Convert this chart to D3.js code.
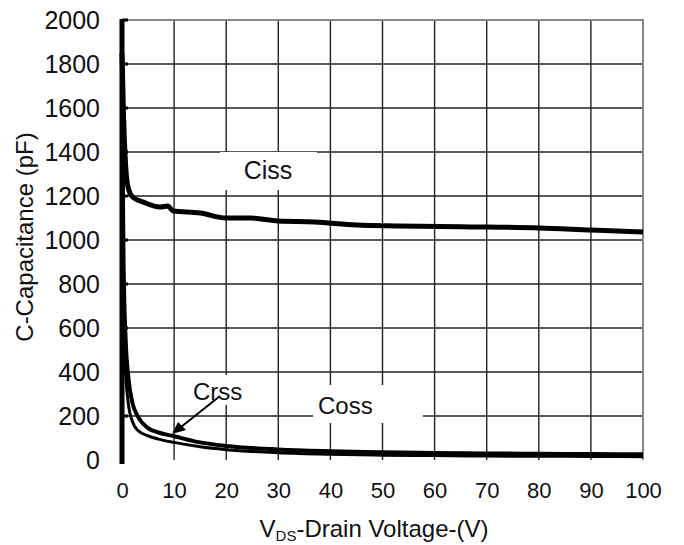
<!DOCTYPE html>
<html>
<head>
<meta charset="utf-8">
<script src="https://cdn.jsdelivr.net/npm/d3@7"></script>
<style>
  body { margin: 0; background: #fff; }
  svg text { font-family: "Liberation Sans", Arial, sans-serif; fill: #111; }
</style>
</head>
<body>
<div id="chart-area"></div>
<script>
const margin = { top: 20, right: 41, bottom: 85, left: 122 };
const width = 684 - margin.left - margin.right;
const height = 545 - margin.top - margin.bottom;

// data
const xTicks = [0, 10, 20, 30, 40, 50, 60, 70, 80, 90, 100];
const yTicks = [0, 200, 400, 600, 800, 1000, 1200, 1400, 1600, 1800, 2000];

const cissV = [0, 0.3, 0.6, 1.0, 1.6, 2.5, 4, 7.3, 8.8, 9.8, 15, 20, 24.6, 30, 37, 45, 53, 65, 80, 90, 100];
const cissC = [1850, 1560, 1380, 1260, 1210, 1188, 1173, 1150, 1155, 1132, 1123, 1100, 1100, 1086, 1082, 1068, 1064, 1060, 1055, 1045, 1036];

const cossV = [0, 0.3, 0.7, 1.2, 2, 3, 5, 7, 10, 15, 20, 30, 40, 50, 60, 70, 80, 90, 100];
const cossC = [1700, 900, 550, 380, 260, 200, 145, 125, 108, 80, 64, 48, 40, 35, 32, 30, 28, 27, 26];

const crssV = [0, 0.3, 0.7, 1.2, 2, 3, 5, 7, 10, 15, 20, 30, 40, 50, 60, 70, 80, 90, 100];
const crssC = [1500, 700, 400, 260, 175, 135, 110, 95, 80, 60, 47, 33, 26, 22, 20, 18, 17, 16, 15];

const svg = d3
    .select("#chart-area")
    .append("svg")
    .attr("width", 684)
    .attr("height", 545);

const g = svg
    .append("g")
    .attr("transform", `translate(${margin.left}, ${margin.top})`);

const xScale = d3.scaleLinear().domain([0, 100]).range([0, width]);
const yScale = d3.scaleLinear().domain([0, 2000]).range([height, 0]);

// grid
g.selectAll(".vgrid")
    .data(xTicks.slice(1, -1))
    .enter()
    .append("line")
    .attr("x1", (d) => xScale(d))
    .attr("x2", (d) => xScale(d))
    .attr("y1", 0)
    .attr("y2", height)
    .attr("stroke", "#222")
    .attr("stroke-width", 1.4);

g.selectAll(".hgrid")
    .data(yTicks.slice(1, -1))
    .enter()
    .append("line")
    .attr("x1", 0)
    .attr("x2", width)
    .attr("y1", (d) => yScale(d))
    .attr("y2", (d) => yScale(d))
    .attr("stroke", "#222")
    .attr("stroke-width", 1.4);

// top and right border
g.append("path")
    .attr("d", `M0,0H${width}V${height}`)
    .attr("fill", "none")
    .attr("stroke", "#888")
    .attr("stroke-width", 2);

// white label boxes that break the grid
const boxes = [
    { x: 220, y: 152, w: 97, h: 38 },
    { x: 182, y: 375, w: 92, h: 30 },
    { x: 313, y: 385, w: 110, h: 38 },
];
boxes.forEach((b) => {
    svg.append("rect")
        .attr("x", b.x)
        .attr("y", b.y)
        .attr("width", b.w)
        .attr("height", b.h)
        .attr("fill", "#fff");
});

// axes
const xAxisCall = d3.axisBottom(xScale).tickValues(xTicks).tickSize(0).tickPadding(22);
const yAxisCall = d3.axisLeft(yScale).tickValues(yTicks).tickSize(0).tickPadding(22).tickFormat(d3.format("d"));

const xAxis = g.append("g")
    .attr("transform", `translate(0, ${height})`)
    .call(xAxisCall);
xAxis.select(".domain").remove();
xAxis.selectAll("text").attr("font-size", "22px").attr("fill", "#333");

const yAxis = g.append("g").call(yAxisCall);
yAxis.select(".domain").remove();
yAxis.selectAll("text").attr("font-size", "25px");

// thick left axis
g.append("line")
    .attr("x1", 0)
    .attr("x2", 0)
    .attr("y1", -1)
    .attr("y2", height + 4)
    .attr("stroke", "#000")
    .attr("stroke-width", 5);
g.selectAll(".ytick")
    .data(yTicks.slice(1))
    .enter()
    .append("line")
    .attr("x1", 0)
    .attr("x2", 6)
    .attr("y1", (d) => yScale(d))
    .attr("y2", (d) => yScale(d))
    .attr("stroke", "#000")
    .attr("stroke-width", 3);

// curves
const line = d3
    .line()
    .x((d) => xScale(d[0]))
    .y((d) => yScale(d[1]))
    .curve(d3.curveMonotoneX);

const series = [
    { v: cissV, c: cissC, w: 5 },
    { v: cossV, c: cossC, w: 4 },
    { v: crssV, c: crssC, w: 3 },
];
series.forEach((s) => {
    g.append("path")
        .datum(s.v.map((v, i) => [v, s.c[i]]))
        .attr("d", line)
        .attr("fill", "none")
        .attr("stroke", "#000")
        .attr("stroke-width", s.w)
        .attr("stroke-linejoin", "round");
});

// curve labels
svg.append("text")
    .attr("x", 268)
    .attr("y", 179)
    .attr("text-anchor", "middle")
    .attr("font-size", "25px")
    .text("Ciss");

svg.append("text")
    .attr("x", 193)
    .attr("y", 400)
    .attr("font-size", "24px")
    .text("Crss");

svg.append("text")
    .attr("x", 318)
    .attr("y", 414)
    .attr("font-size", "24px")
    .text("Coss");

// arrow from Crss label to its curve
svg.append("line")
    .attr("x1", 220)
    .attr("y1", 396)
    .attr("x2", 176)
    .attr("y2", 431)
    .attr("stroke", "#000")
    .attr("stroke-width", 2);
svg.append("path")
    .attr("d", "M172,434 L178,422 L186,430 Z")
    .attr("fill", "#000");

// axis titles
svg.append("text")
    .attr("transform", "translate(33, 237) rotate(-90)")
    .attr("text-anchor", "middle")
    .attr("font-size", "24px")
    .text("C-Capacitance (pF)");

const xTitle = svg.append("text")
    .attr("x", 374)
    .attr("y", 537)
    .attr("text-anchor", "middle")
    .attr("font-size", "24px");
xTitle.append("tspan").text("V");
xTitle.append("tspan").attr("font-size", "15px").attr("dy", "4").text("DS");
xTitle.append("tspan").attr("dy", "-4").text("-Drain Voltage-(V)");
</script>
</body>
</html>
